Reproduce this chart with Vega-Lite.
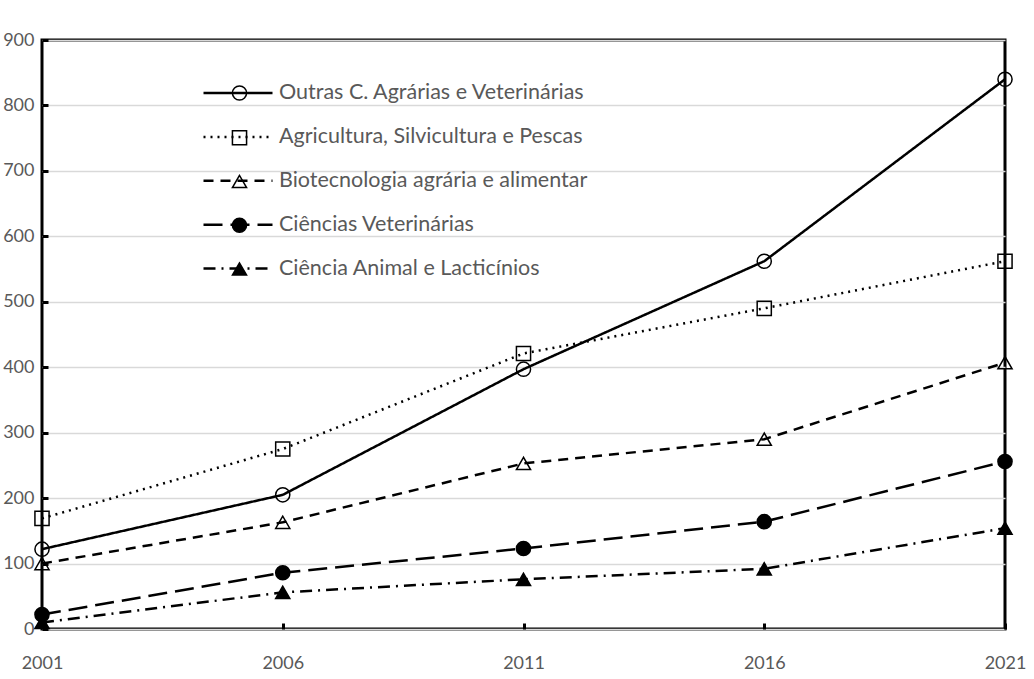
{
  "$schema": "https://vega.github.io/schema/vega-lite/v6.json",
  "autosize": "none",
  "width": 963,
  "height": 589,
  "padding": {"left": 42, "top": 40, "right": 29, "bottom": 50},
  "background": "white",
  "config": {
    "view": {"stroke": "black", "strokeWidth": 3},
    "font": "Lato"
  },
  "data": {
    "values": [
      {"serie": "Outras C. Agrárias e Veterinárias", "ano": 2001, "valor": 122},
      {"serie": "Outras C. Agrárias e Veterinárias", "ano": 2006, "valor": 205},
      {"serie": "Outras C. Agrárias e Veterinárias", "ano": 2011, "valor": 397},
      {"serie": "Outras C. Agrárias e Veterinárias", "ano": 2016, "valor": 562},
      {"serie": "Outras C. Agrárias e Veterinárias", "ano": 2021, "valor": 840},
      {"serie": "Agricultura, Silvicultura e Pescas", "ano": 2001, "valor": 169},
      {"serie": "Agricultura, Silvicultura e Pescas", "ano": 2006, "valor": 275},
      {"serie": "Agricultura, Silvicultura e Pescas", "ano": 2011, "valor": 421},
      {"serie": "Agricultura, Silvicultura e Pescas", "ano": 2016, "valor": 490},
      {"serie": "Agricultura, Silvicultura e Pescas", "ano": 2021, "valor": 562},
      {"serie": "Biotecnologia agrária e alimentar", "ano": 2001, "valor": 100},
      {"serie": "Biotecnologia agrária e alimentar", "ano": 2006, "valor": 163},
      {"serie": "Biotecnologia agrária e alimentar", "ano": 2011, "valor": 253},
      {"serie": "Biotecnologia agrária e alimentar", "ano": 2016, "valor": 290},
      {"serie": "Biotecnologia agrária e alimentar", "ano": 2021, "valor": 407},
      {"serie": "Ciências Veterinárias", "ano": 2001, "valor": 22},
      {"serie": "Ciências Veterinárias", "ano": 2006, "valor": 86},
      {"serie": "Ciências Veterinárias", "ano": 2011, "valor": 123},
      {"serie": "Ciências Veterinárias", "ano": 2016, "valor": 164},
      {"serie": "Ciências Veterinárias", "ano": 2021, "valor": 256},
      {"serie": "Ciência Animal e Lacticínios", "ano": 2001, "valor": 10},
      {"serie": "Ciência Animal e Lacticínios", "ano": 2006, "valor": 56},
      {"serie": "Ciência Animal e Lacticínios", "ano": 2011, "valor": 76},
      {"serie": "Ciência Animal e Lacticínios", "ano": 2016, "valor": 92},
      {"serie": "Ciência Animal e Lacticínios", "ano": 2021, "valor": 154}
    ]
  },
  "encoding": {
    "x": {
      "field": "ano", "type": "quantitative",
      "scale": {"domain": [2001, 2021], "nice": false, "zero": false},
      "axis": {
        "title": null, "values": [2001, 2006, 2011, 2016, 2021], "format": "d",
        "grid": false, "domain": false, "offset": -6,
        "tickColor": "black", "tickWidth": 3, "tickSize": 6,
        "labelPadding": 25, "labelFontSize": 18, "labelColor": "#595959",
        "labelFont": "Lato", "labelFlush": false
      }
    },
    "y": {
      "field": "valor", "type": "quantitative",
      "scale": {"domain": [0, 900], "nice": false},
      "axis": {
        "title": null, "values": [0, 100, 200, 300, 400, 500, 600, 700, 800, 900],
        "grid": true, "gridColor": "#d9d9d9", "gridWidth": 1.3, "domain": false, "offset": -6,
        "tickColor": "black", "tickWidth": 3, "tickSize": 6,
        "labelPadding": 8, "labelFontSize": 18, "labelColor": "#595959",
        "labelFont": "Lato"
      }
    }
  },
  "layer": [
    {
      "mark": {"type": "line", "color": "black", "strokeWidth": 2.5},
      "encoding": {
        "strokeDash": {
          "field": "serie", "type": "nominal",
          "sort": ["Outras C. Agrárias e Veterinárias", "Agricultura, Silvicultura e Pescas", "Biotecnologia agrária e alimentar", "Ciências Veterinárias", "Ciência Animal e Lacticínios"],
          "scale": {"range": [[1, 0], [2, 5], [10, 7], [19, 8], [12, 6, 2, 6]]},
          "legend": {
            "title": null, "orient": "none", "legendX": 184.5, "legendY": 41.5,
            "padding": 0, "symbolType": "M-3.45,0H3.45", "symbolSize": 400,
            "symbolStrokeWidth": 2.5, "symbolStrokeColor": "black",
            "labelOffset": 29.5, "labelFontSize": 21.5, "labelColor": "#595959",
            "labelFont": "Lato", "rowPadding": 21.9, "labelLimit": 500
          }
        },
        "detail": {"field": "serie"}
      }
    },
    {
      "mark": {"type": "point", "filled": false, "strokeWidth": 1.5, "opacity": 1, "size": 200},
      "encoding": {
        "shape": {
          "field": "serie", "type": "nominal",
          "scale": {
            "domain": ["Outras C. Agrárias e Veterinárias", "Agricultura, Silvicultura e Pescas", "Biotecnologia agrária e alimentar", "Ciências Veterinárias", "Ciência Animal e Lacticínios"],
            "range": ["circle", "square", "triangle-up", "circle", "triangle-up"]
          },
          "legend": {
            "title": null, "orient": "none", "legendX": 187.5, "legendY": 43,
            "padding": 0, "symbolSize": 200, "symbolStrokeWidth": 1.5,
            "labelExpr": "''",
            "labelFontSize": 20, "labelFont": "Lato", "rowPadding": 22.75
          }
        },
        "stroke": {
          "field": "serie", "type": "nominal",
          "scale": {
            "domain": ["Outras C. Agrárias e Veterinárias", "Agricultura, Silvicultura e Pescas", "Biotecnologia agrária e alimentar", "Ciências Veterinárias", "Ciência Animal e Lacticínios"],
            "range": ["black", "black", "black", "black", "black"]
          },
          "legend": {
            "title": null, "orient": "none", "legendX": 187.5, "legendY": 43,
            "padding": 0, "symbolSize": 200, "symbolStrokeWidth": 1.5,
            "labelExpr": "''",
            "labelFontSize": 20, "labelFont": "Lato", "rowPadding": 22.75
          }
        },
        "fill": {
          "field": "serie", "type": "nominal",
          "scale": {
            "domain": ["Outras C. Agrárias e Veterinárias", "Agricultura, Silvicultura e Pescas", "Biotecnologia agrária e alimentar", "Ciências Veterinárias", "Ciência Animal e Lacticínios"],
            "range": ["transparent", "transparent", "transparent", "black", "black"]
          },
          "legend": {
            "title": null, "orient": "none", "legendX": 187.5, "legendY": 43,
            "padding": 0, "symbolSize": 200, "symbolStrokeWidth": 1.5,
            "labelExpr": "''",
            "labelFontSize": 20, "labelFont": "Lato", "rowPadding": 22.75
          }
        }
      }
    }
  ]
}
